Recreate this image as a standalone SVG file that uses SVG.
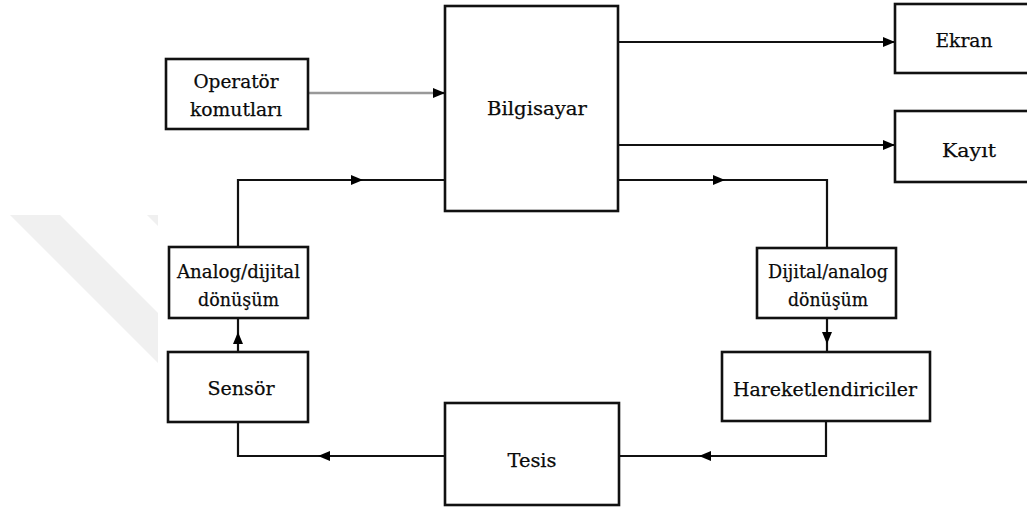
<svg xmlns="http://www.w3.org/2000/svg" width="1027" height="508" viewBox="0 0 1027 508">
  <defs>
    <marker id="arrow" markerUnits="userSpaceOnUse" markerWidth="12" markerHeight="10" refX="12" refY="5" orient="auto">
      <path d="M0,0 L12,5 L0,10 z" fill="#000"/>
    </marker>
    <style>
      .box { fill: #fff; stroke: #111; stroke-width: 2.6; }
      .wire { fill: none; stroke: #111; stroke-width: 2.2; }
      .wire-gray { fill: none; stroke: #999; stroke-width: 2.4; }
      .label { font-family: "DejaVu Serif", "Liberation Serif", serif; font-size: 18.5px; fill: #0a0a0a; text-anchor: middle; stroke: #0a0a0a; stroke-width: 0.25; }
      .mark { fill: #f0f0f0; }
    </style>
  </defs>

  <rect width="1027" height="508" fill="#fff"/>

  <!-- faint background stripes -->
  <g id="background">
    <polygon class="mark" points="10,215 60,215 158,313 158,363"/>
    <polygon class="mark" points="147,215 158,215 158,226"/>
  </g>

  <!-- connectors -->
  <g id="connectors">
    <path class="wire-gray" d="M308,93 H440"/>
    <path class="wire" d="M440,93 H445" marker-end="url(#arrow)"/>
    <path class="wire" d="M618,42 H895" marker-end="url(#arrow)"/>
    <path class="wire" d="M618,145 H895" marker-end="url(#arrow)"/>
    <path class="wire" d="M618,180 H725" marker-end="url(#arrow)"/>
    <path class="wire" d="M725,180 H827 V248"/>
    <path class="wire" d="M827,318 V344" marker-end="url(#arrow)"/>
    <path class="wire" d="M827,344 V352"/>
    <path class="wire" d="M826,421 V456 H699" marker-end="url(#arrow)"/>
    <path class="wire" d="M699,456 H619"/>
    <path class="wire" d="M445,456 H318" marker-end="url(#arrow)"/>
    <path class="wire" d="M318,456 H238 V422"/>
    <path class="wire" d="M238,352 V332" marker-end="url(#arrow)"/>
    <path class="wire" d="M238,332 V318"/>
    <path class="wire" d="M238,247 V180 H363" marker-end="url(#arrow)"/>
    <path class="wire" d="M363,180 H445"/>
  </g>

  <g id="operator">
    <rect class="box" x="166" y="59" width="142" height="70"/>
    <text class="label" x="236" y="88" textLength="85" lengthAdjust="spacingAndGlyphs">Operatör</text>
    <text class="label" x="236" y="116" textLength="92" lengthAdjust="spacingAndGlyphs">komutları</text>
  </g>

  <g id="computer">
    <rect class="box" x="445" y="6" width="173" height="205"/>
    <text class="label" x="537" y="115" textLength="100" lengthAdjust="spacingAndGlyphs">Bilgisayar</text>
  </g>

  <g id="screen">
    <rect class="box" x="895" y="4" width="140" height="69"/>
    <text class="label" x="964" y="47" textLength="57" lengthAdjust="spacingAndGlyphs">Ekran</text>
  </g>

  <g id="record">
    <rect class="box" x="895" y="111" width="140" height="71"/>
    <text class="label" x="969" y="157" textLength="54" lengthAdjust="spacingAndGlyphs">Kayıt</text>
  </g>

  <g id="adc">
    <rect class="box" x="169" y="247" width="139" height="71"/>
    <text class="label" x="238.5" y="278" textLength="123" lengthAdjust="spacingAndGlyphs">Analog/dijital</text>
    <text class="label" x="238.5" y="306" textLength="81" lengthAdjust="spacingAndGlyphs">dönüşüm</text>
  </g>

  <g id="dac">
    <rect class="box" x="757" y="248" width="139" height="70"/>
    <text class="label" x="828" y="278" textLength="120" lengthAdjust="spacingAndGlyphs">Dijital/analog</text>
    <text class="label" x="828" y="306" textLength="80" lengthAdjust="spacingAndGlyphs">dönüşüm</text>
  </g>

  <g id="actuators">
    <rect class="box" x="722" y="352" width="208" height="69"/>
    <text class="label" x="825" y="396" textLength="184" lengthAdjust="spacingAndGlyphs">Hareketlendiriciler</text>
  </g>

  <g id="sensor">
    <rect class="box" x="168" y="352" width="140" height="70"/>
    <text class="label" x="241" y="395" textLength="67" lengthAdjust="spacingAndGlyphs">Sensör</text>
  </g>

  <g id="plant">
    <rect class="box" x="445" y="403" width="174" height="102"/>
    <text class="label" x="532" y="467" textLength="49" lengthAdjust="spacingAndGlyphs">Tesis</text>
  </g>
</svg>
